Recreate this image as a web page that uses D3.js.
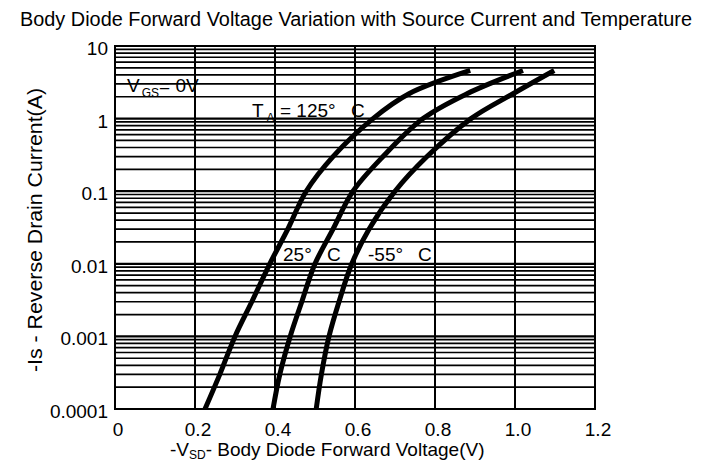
<!DOCTYPE html>
<html><head><meta charset="utf-8">
<script src="https://cdn.jsdelivr.net/npm/d3@7"></script>
<style>
body{margin:0;background:#fff}
text{font-family:"Liberation Sans",Arial,sans-serif;fill:#000}
</style>
</head><body><svg id="c" width="716" height="461"></svg>
<script>
// Data
const currents = [0.0001, 0.0003, 0.001, 0.003, 0.01, 0.03, 0.1, 0.3, 1, 2.2, 4.6];
const v125 = [0.225, 0.262, 0.300, 0.342, 0.387, 0.432, 0.478, 0.545, 0.645, 0.735, 0.888];
const v25  = [0.395, 0.412, 0.438, 0.467, 0.500, 0.545, 0.595, 0.670, 0.770, 0.880, 1.020];
const vm55 = [0.503, 0.516, 0.535, 0.560, 0.592, 0.635, 0.700, 0.780, 0.890, 0.995, 1.098];
const xTicks = [0, 0.2, 0.4, 0.6, 0.8, 1.0, 1.2];
const xTickLabels = ["0", "0.2", "0.4", "0.6", "0.8", "1.0", "1.2"];
const yTicks = [10, 1, 0.1, 0.01, 0.001, 0.0001];
const yTickLabels = ["10", "1", "0.1", "0.01", "0.001", "0.0001"];

const svg = d3.select("#c");
const L = 115, R = 595, T = 46, B = 409;
const x = d3.scaleLinear().domain([0, 1.2]).range([L, R]);
const y = d3.scaleLog().domain([0.0001, 10]).range([B, T]);

// minor horizontal grid
const minor = [];
[0.0001, 0.001, 0.01, 0.1, 1].forEach(d => { for (let k = 2; k <= 9; k++) minor.push(k * d); });
const g = svg.append("g");
g.selectAll("line.mn").data(minor).join("line")
  .attr("x1", L).attr("x2", R)
  .attr("y1", d => y(d)).attr("y2", d => y(d))
  .attr("stroke", "#000").attr("stroke-width", 1.7);
g.selectAll("line.mj").data(yTicks).join("line")
  .attr("x1", L).attr("x2", R)
  .attr("y1", d => y(d)).attr("y2", d => y(d))
  .attr("stroke", "#000").attr("stroke-width", 2.2);
g.selectAll("line.vx").data(xTicks).join("line")
  .attr("x1", d => x(d)).attr("x2", d => x(d))
  .attr("y1", T).attr("y2", B)
  .attr("stroke", "#000").attr("stroke-width", 2);
svg.append("rect").attr("x", L).attr("y", T).attr("width", R - L).attr("height", B - T)
  .attr("fill", "none").attr("stroke", "#000").attr("stroke-width", 2);

// tick labels
svg.selectAll("text.xt").data(xTicks).join("text")
  .attr("x", d => x(d) + 3).attr("y", 436)
  .attr("text-anchor", "middle").attr("font-size", 19)
  .text((d, i) => xTickLabels[i]);
svg.selectAll("text.yt").data(yTicks).join("text")
  .attr("x", 108).attr("y", d => y(d) + 9)
  .attr("text-anchor", "end").attr("font-size", 19)
  .text((d, i) => yTickLabels[i]);

// curves
const line = d3.line().x(d => x(d[0])).y(d => y(d[1])).curve(d3.curveCatmullRom.alpha(0.5));
[v125, v25, vm55].forEach(vs => {
  svg.append("path").datum(vs.map((v, i) => [v, currents[i]]))
    .attr("d", line).attr("fill", "none").attr("stroke", "#000")
    .attr("stroke-width", 5).attr("stroke-linecap", "butt");
});

// annotations
const vgs = svg.append("text").attr("x", 127).attr("y", 92).attr("font-size", 19);
vgs.append("tspan").text("V");
vgs.append("tspan").attr("dx", 2).attr("dy", 5).attr("font-size", 12).text("GS");
vgs.append("tspan").attr("dy", -5).text("= 0V");

const ta = svg.append("text").attr("x", 252).attr("y", 117).attr("font-size", 19);
ta.append("tspan").text("T");
ta.append("tspan").attr("dx", 3).attr("dy", 5).attr("font-size", 12).text("A");
ta.append("tspan").attr("x", 280).attr("dy", -5).text("= 125°");
ta.append("tspan").attr("x", 351).text("C");

const t25 = svg.append("text").attr("y", 261).attr("font-size", 19);
t25.append("tspan").attr("x", 283).text("25°");
t25.append("tspan").attr("x", 327).text("C");
const t55 = svg.append("text").attr("y", 261).attr("font-size", 19);
t55.append("tspan").attr("x", 368).text("-55°");
t55.append("tspan").attr("x", 418).text("C");

// titles
svg.append("text").attr("x", 356).attr("y", 26).attr("text-anchor", "middle")
  .attr("font-size", 20).attr("textLength", 672).attr("lengthAdjust", "spacingAndGlyphs")
  .text("Body Diode Forward Voltage Variation with Source Current and Temperature");
svg.append("text").attr("transform", "translate(42,230) rotate(-90)")
  .attr("text-anchor", "middle").attr("font-size", 20)
  .attr("textLength", 284).attr("lengthAdjust", "spacingAndGlyphs")
  .text("-Is - Reverse Drain Current(A)");
const xt = svg.append("text").attr("x", 170).attr("y", 456).attr("font-size", 19);
xt.append("tspan").text("-V");
xt.append("tspan").attr("dy", 3).attr("font-size", 12).text("SD");
xt.append("tspan").attr("dy", -3).text("- Body Diode Forward Voltage(V)");
</script></body></html>
